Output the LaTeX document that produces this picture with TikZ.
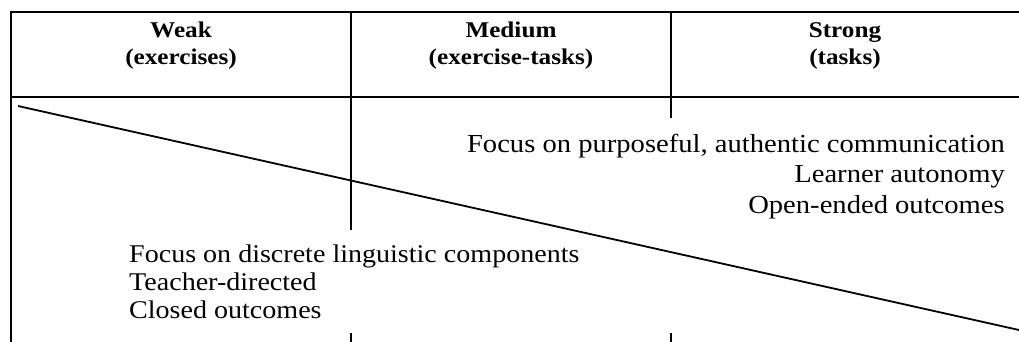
\documentclass[tikz,border=0pt]{standalone}
\usepackage{fontspec}
\setmainfont{Liberation Serif}
\newfontfamily\headfont[FakeStretch=1.12]{Liberation Serif}
\newfontfamily\bodyfont[FakeStretch=1.1]{Liberation Serif}
\begin{document}
\begin{tikzpicture}[x=1pt,y=-1pt,
  frame/.style={line width=2.4pt},
  divider/.style={line width=1.5pt},
  diag/.style={line width=1.8pt},
  headtxt/.style={anchor=base,inner sep=0pt,align=center,font=\headfont\bfseries\fontsize{22.5}{27}\selectfont},
  bodyR/.style={anchor=base east,inner sep=0pt,align=right,font=\bodyfont\fontsize{26}{30.5}\selectfont},
  bodyL/.style={anchor=base west,inner sep=0pt,align=left,font=\bodyfont\fontsize{25.5}{28}\selectfont}]
\useasboundingbox (0,0) rectangle (1019,342);
% frame
\coordinate (tl) at (11,12);
\coordinate (tr) at (1019,12);
\coordinate (bl) at (11,342);
\coordinate (hl) at (11,97);
\coordinate (hr) at (1019,97);
\draw[frame] (tr) -- (tl) -- (bl);
\draw[frame] (hl) -- (hr);
% column dividers
\coordinate (d1t) at (351,12);
\coordinate (d1b) at (351,230);
\coordinate (d1s) at (351,333);
\coordinate (d1e) at (351,342);
\coordinate (d2t) at (671,12);
\coordinate (d2b) at (671,118);
\coordinate (d2s) at (671,333);
\coordinate (d2e) at (671,342);
\draw[divider] (d1t) -- (d1b);
\draw[divider] (d1s) -- (d1e);
\draw[divider] (d2t) -- (d2b);
\draw[divider] (d2s) -- (d2e);
% diagonal
\coordinate (ds) at (18,106);
\coordinate (de) at (1019,330);
\draw[diag] (ds) -- (de);
% headers (anchor = baseline of last line)
\node[headtxt] (weak) at (181,65) {Weak\\(exercises)};
\node[headtxt] (medium) at (511,65) {Medium\\(exercise-tasks)};
\node[headtxt] (strong) at (845,65) {Strong\\(tasks)};
% body texts
\node[bodyR] (strongtxt) at (1005,213) {Focus on purposeful, authentic communication\\Learner autonomy\\Open-ended outcomes};
\node[bodyL] (weaktxt) at (129,318) {Focus on discrete linguistic components\\Teacher-directed\\Closed outcomes};
\end{tikzpicture}
\end{document}
